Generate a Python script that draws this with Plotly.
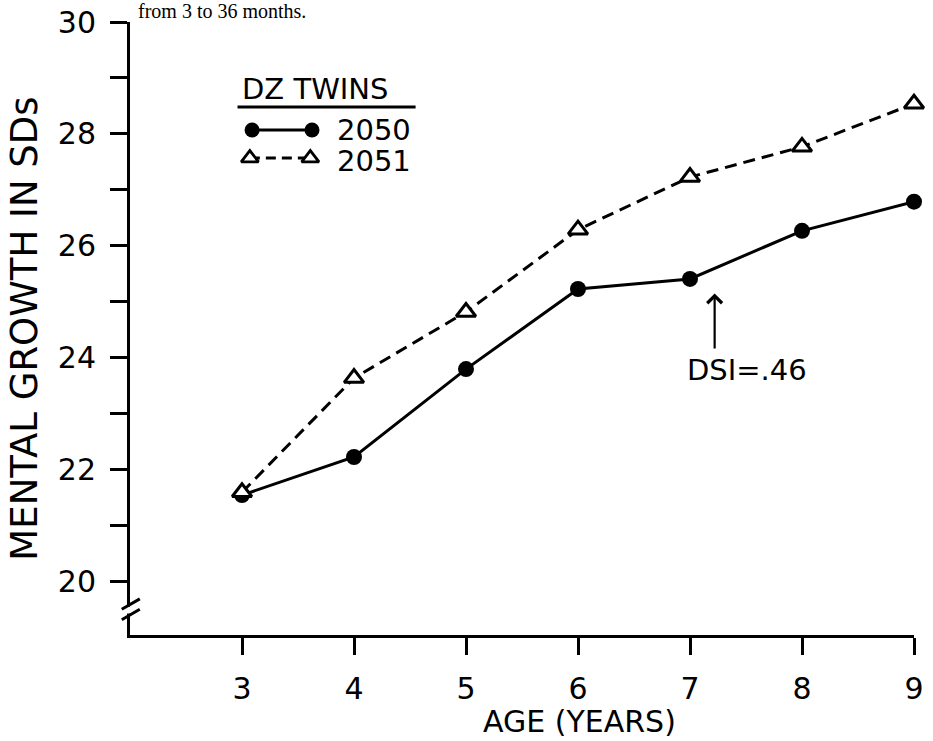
import plotly.graph_objects as go

# ---- data ----
ages = [3, 4, 5, 6, 7, 8, 9]
twin_2050 = [21.55, 22.23, 23.80, 25.23, 25.41, 26.27, 26.79]
twin_2051 = [21.60, 23.64, 24.82, 26.29, 27.23, 27.77, 28.54]
series_names = ["2050", "2051"]
legend_title = "DZ TWINS"
y_tick_vals = [20, 21, 22, 23, 24, 25, 26, 27, 28, 29, 30]
y_tick_text = ["20", "", "22", "", "24", "", "26", "", "28", "", "30"]
x_tick_vals = [3, 4, 5, 6, 7, 8, 9]
x_tick_text = ["3", "4", "5", "6", "7", "8", "9"]
x_title = "AGE (YEARS)"
y_title = "MENTAL GROWTH IN SDs"
note_text = "DSI=.46"
note_age = 7.22
caption = "from 3 to 36 months."

FONT = "DejaVu Sans"
BLACK = "black"

fig = go.Figure()

# data traces
fig.add_trace(go.Scatter(
    x=ages, y=twin_2050, mode="lines+markers", name=series_names[0],
    line=dict(color=BLACK, width=3),
    marker=dict(symbol="circle", size=16, color=BLACK),
    showlegend=False, cliponaxis=False))
fig.add_trace(go.Scatter(
    x=ages, y=twin_2051, mode="lines+markers", name=series_names[1],
    line=dict(color=BLACK, width=3, dash="12px,7px"),
    marker=dict(symbol="triangle-up", size=17, color="white",
                line=dict(color=BLACK, width=3)),
    showlegend=False, cliponaxis=False))

# hand-drawn style legend (samples placed inside plot)
fig.add_trace(go.Scatter(
    x=[3.09, 3.625], y=[28.07, 28.07], mode="lines+markers",
    line=dict(color=BLACK, width=3),
    marker=dict(symbol="circle", size=15, color=BLACK),
    showlegend=False, hoverinfo="skip"))
fig.add_trace(go.Scatter(
    x=[3.07, 3.61], y=[27.57, 27.57], mode="lines+markers",
    line=dict(color=BLACK, width=3, dash="10px,6px"),
    marker=dict(symbol="triangle-up", size=15, color="white",
                line=dict(color=BLACK, width=2.8)),
    showlegend=False, hoverinfo="skip"))

annotations = [
    dict(x=2.98, y=28.80, xref="x", yref="y", text=legend_title, showarrow=False,
         xanchor="left", yanchor="middle", font=dict(family=FONT, size=29, color=BLACK)),
    dict(x=3.83, y=28.07, xref="x", yref="y", text=series_names[0], showarrow=False,
         xanchor="left", yanchor="middle", font=dict(family=FONT, size=29, color=BLACK)),
    dict(x=3.83, y=27.52, xref="x", yref="y", text=series_names[1], showarrow=False,
         xanchor="left", yanchor="middle", font=dict(family=FONT, size=29, color=BLACK)),
    # DSI note with arrow
    dict(x=note_age, y=25.15, xref="x", yref="y", ax=note_age, ay=24.14,
         axref="x", ayref="y", text="", showarrow=True, arrowhead=4,
         arrowsize=1.3, arrowwidth=2.2, arrowcolor=BLACK),
    dict(x=7.51, y=23.79, xref="x", yref="y", text=note_text, showarrow=False,
         xanchor="center", yanchor="middle", font=dict(family=FONT, size=29, color=BLACK)),
    # axis titles
    dict(x=0.573, y=-0.141, xref="paper", yref="paper", text=x_title, showarrow=False,
         xanchor="center", yanchor="middle", font=dict(family=FONT, size=30, color=BLACK)),
    dict(x=-0.135, y=0.50, xref="paper", yref="paper", text=y_title, showarrow=False,
         textangle=-90, xanchor="center", yanchor="middle",
         font=dict(family=FONT, size=37, color=BLACK)),
    # caption fragment at the top
    dict(x=0.117, y=1.018, xref="paper", yref="paper", text=caption, showarrow=False,
         xanchor="center", yanchor="middle",
         font=dict(family="Liberation Serif", size=20, color=BLACK)),
]

shapes = [
    # legend underline
    dict(type="line", xref="x", yref="y", x0=2.96, x1=4.55, y0=28.48, y1=28.48,
         line=dict(color=BLACK, width=3)),
    # axis break: white gap + two slanted strokes
    dict(type="rect", xref="paper", yref="paper", x0=-0.008, x1=0.008,
         y0=0.035, y1=0.046, fillcolor="white", line=dict(width=0)),
    dict(type="line", xref="paper", yref="paper", x0=-0.0105, x1=0.0125,
         y0=0.042, y1=0.059, line=dict(color=BLACK, width=3)),
    dict(type="line", xref="paper", yref="paper", x0=-0.0105, x1=0.0125,
         y0=0.025, y1=0.042, line=dict(color=BLACK, width=3)),
]

fig.update_layout(
    width=933, height=741, autosize=False,
    margin=dict(l=130, r=19, t=22, b=106, autoexpand=False),
    paper_bgcolor="white", plot_bgcolor="white",
    annotations=annotations, shapes=shapes,
    font=dict(family=FONT, color=BLACK),
    showlegend=False,
)
fig.update_xaxes(
    range=[2, 9], showgrid=False, zeroline=False, automargin=False,
    showline=True, linecolor=BLACK, linewidth=3,
    ticks="outside", ticklen=17, tickwidth=3, tickcolor=BLACK,
    tickvals=x_tick_vals, ticktext=x_tick_text,
    tickfont=dict(family=FONT, size=30, color=BLACK),
    ticklabelstandoff=8,
)
fig.update_yaxes(
    range=[19.05, 30], showgrid=False, zeroline=False, automargin=False,
    showline=True, linecolor=BLACK, linewidth=3,
    ticks="outside", ticklen=17, tickwidth=3, tickcolor=BLACK,
    tickvals=y_tick_vals, ticktext=y_tick_text,
    tickfont=dict(family=FONT, size=30, color=BLACK),
    ticklabelstandoff=8,
)

# remove the browser's default page margin so the figure sits at the window origin
fig.write_html("out.html", config={"displayModeBar": False},
               post_script="document.body.style.margin='0';")
